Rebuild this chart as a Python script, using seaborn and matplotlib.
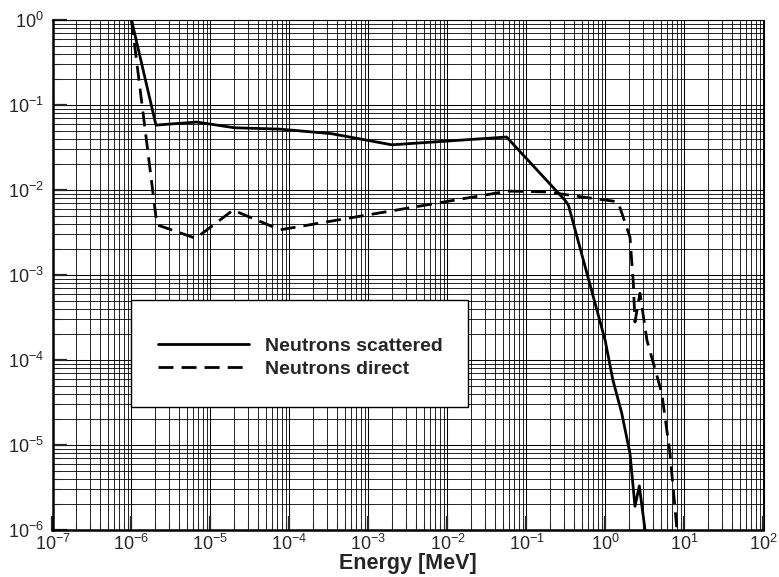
import numpy as np
import pandas as pd
import matplotlib
matplotlib.use("Agg")
import matplotlib.pyplot as plt
import matplotlib.patches as patches
from matplotlib.ticker import LogLocator, NullFormatter
import seaborn as sns

# ---- data ----
series_names = ["Neutrons scattered", "Neutrons direct"]

scat_energy = [1.0e-6, 2.04e-6, 6.7e-6, 2.0e-5, 7.6e-5, 3.4e-4, 1.97e-3, 5.6e-2,
               0.31, 0.34, 0.99, 1.24, 1.60, 2.04, 2.36, 2.68, 3.4]
scat_flux = [1.0, 0.058, 0.063, 0.054, 0.052, 0.046, 0.034, 0.042,
             0.0075, 0.0066, 1.7e-4, 5.8e-5, 2.4e-5, 8e-6, 1.9e-6, 3.3e-6, 6e-7]

dir_energy = [1.0e-6, 2.1e-6, 6.5e-6, 1.93e-5, 7.6e-5, 5.8e-2, 0.18, 0.5,
              1.25, 1.45, 2.04, 2.25, 2.36, 2.73, 3.35, 5.15, 6.55, 7.96, 8.4]
dir_flux = [1.0, 0.0039, 0.0027, 0.0058, 0.0034, 0.0097, 0.0095, 0.0083,
            0.0074, 0.0071, 0.0028, 8e-4, 2.8e-4, 6.1e-4, 1.7e-4, 4.1e-5, 8e-6, 1.1e-6, 6e-7]

x_limits = (1e-7, 1e2)
y_limits = (1e-6, 1.0)
x_label = "Energy [MeV]"

df = pd.concat([
    pd.DataFrame({"Energy": scat_energy, "Flux": scat_flux, "Series": series_names[0]}),
    pd.DataFrame({"Energy": dir_energy, "Flux": dir_flux, "Series": series_names[1]}),
], ignore_index=True)

sns.set_style("ticks")
plt.rcParams["font.family"] = ["Liberation Sans", "DejaVu Sans"]
plt.rcParams["mathtext.fontset"] = "custom"
plt.rcParams["mathtext.rm"] = "Liberation Sans"
plt.rcParams["mathtext.it"] = "Liberation Sans:italic"
plt.rcParams["mathtext.bf"] = "Liberation Sans:bold"
plt.rcParams["axes.unicode_minus"] = False

fig = plt.figure(figsize=(7.79, 5.77), dpi=100)
ax = fig.add_axes([52.5 / 779, 1 - 530 / 577, 711 / 779, 510 / 577])

sns.lineplot(data=df, x="Energy", y="Flux", style="Series", color="black",
             dashes={series_names[0]: "", series_names[1]: (5.4, 2.9)},
             lw=2.0, sort=False, estimator=None, ax=ax, legend=True)

ax.set_xscale("log")
ax.set_yscale("log")
ax.set_xlim(*x_limits)
ax.set_ylim(*y_limits)

ax.xaxis.set_major_locator(LogLocator(base=10, numticks=20))
ax.yaxis.set_major_locator(LogLocator(base=10, numticks=20))
ax.xaxis.set_minor_locator(LogLocator(base=10, subs=np.arange(2, 10), numticks=100))
ax.yaxis.set_minor_locator(LogLocator(base=10, subs=np.arange(2, 10), numticks=100))
ax.xaxis.set_minor_formatter(NullFormatter())
ax.yaxis.set_minor_formatter(NullFormatter())

ax.grid(which="major", color="black", lw=0.75)
ax.grid(which="minor", color="black", lw=0.6)

ax.tick_params(which="major", direction="in", length=10, width=1.6, labelsize=13,
               top=False, right=False)
ax.tick_params(which="minor", direction="in", length=5.5, width=0.8, top=False, right=False)
ax.tick_params(axis="x", which="major", pad=3)
ax.tick_params(axis="y", which="major", pad=6)

for side in ["left", "bottom"]:
    ax.spines[side].set_linewidth(1.8)
for side in ["top", "right"]:
    ax.spines[side].set_linewidth(0.8)
for sp in ax.spines.values():
    sp.set_color("black")
    sp.set_zorder(10)

ax.set_xlabel(x_label, fontsize=15.5, fontweight="bold", labelpad=-1)
ax.set_ylabel("")

# legend box
rect = patches.Rectangle((0.1104, 0.241), 0.474, 0.210, transform=ax.transAxes,
                         facecolor="white", edgecolor="black", lw=1.0, zorder=5)
ax.add_patch(rect)
handles, labels = ax.get_legend_handles_labels()
leg = ax.legend(handles, labels, frameon=False, loc="center left",
                bbox_to_anchor=(0.148, 0.338), borderaxespad=0, borderpad=0,
                handlelength=4.7, handletextpad=0.8, labelspacing=0.3,
                prop={"weight": "bold", "size": 14})
leg.set_zorder(6)

fig.savefig("out.png", dpi=100)
